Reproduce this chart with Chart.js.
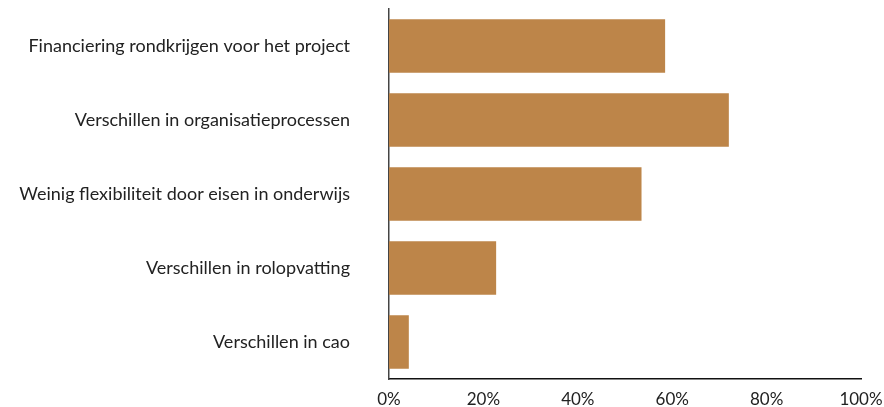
<!DOCTYPE html>
<html>
<head>
<meta charset="utf-8">
<script src="https://cdn.jsdelivr.net/npm/chart.js@4"></script>
<style>
  html, body { margin: 0; padding: 0; background: #fff; }
  canvas { display: block; }
</style>
</head>
<body>
<canvas id="barChart" width="884" height="407"></canvas>
<script>
const categories = [
  "Financiering rondkrijgen voor het project",
  "Verschillen in organisatieprocessen",
  "Weinig flexibiliteit door eisen in onderwijs",
  "Verschillen in rolopvatting",
  "Verschillen in cao",
];
const values = [58.5, 72, 53.5, 22.7, 4.2];
const tickValues = [0, 20, 40, 60, 80, 100];

const ctx = document.getElementById("barChart").getContext("2d");

const barChart = new Chart(ctx, {
  type: "bar",
  data: {
    labels: categories,
    datasets: [
      {
        data: values,
        backgroundColor: "#bd8549",
        borderWidth: 0,
        categoryPercentage: 1,
        barPercentage: 0.72,
      },
    ],
  },
  options: {
    indexAxis: "y",
    responsive: false,
    animation: false,
    layout: {
      padding: { top: 9, right: 0, bottom: 0, left: 0 },
    },
    plugins: {
      legend: { display: false },
      tooltip: { enabled: false },
    },
    scales: {
      x: {
        min: 0,
        max: 100,
        afterBuildTicks: (axis) => {
          axis.ticks = tickValues.map((v) => ({ value: v }));
        },
        grid: { display: false, drawTicks: false },
        border: { color: "#111", width: 1.5 },
        ticks: {
          color: "#222",
          padding: 10,
          font: { family: "Lato", size: 17 },
          callback: (v) => v + "%",
        },
        afterFit: (axis) => {
          axis.height = 28;
          axis.paddingLeft = 0;
          axis.paddingRight = 23;
        },
      },
      y: {
        grid: { display: false, drawTicks: false },
        border: { color: "#444", width: 1.5 },
        ticks: {
          color: "#222",
          padding: 39,
          font: { family: "Lato", size: 18 },
        },
        afterFit: (axis) => {
          axis.width = 389;
          axis.paddingTop = 0;
          axis.paddingBottom = 0;
        },
      },
    },
  },
});
</script>
</body>
</html>
